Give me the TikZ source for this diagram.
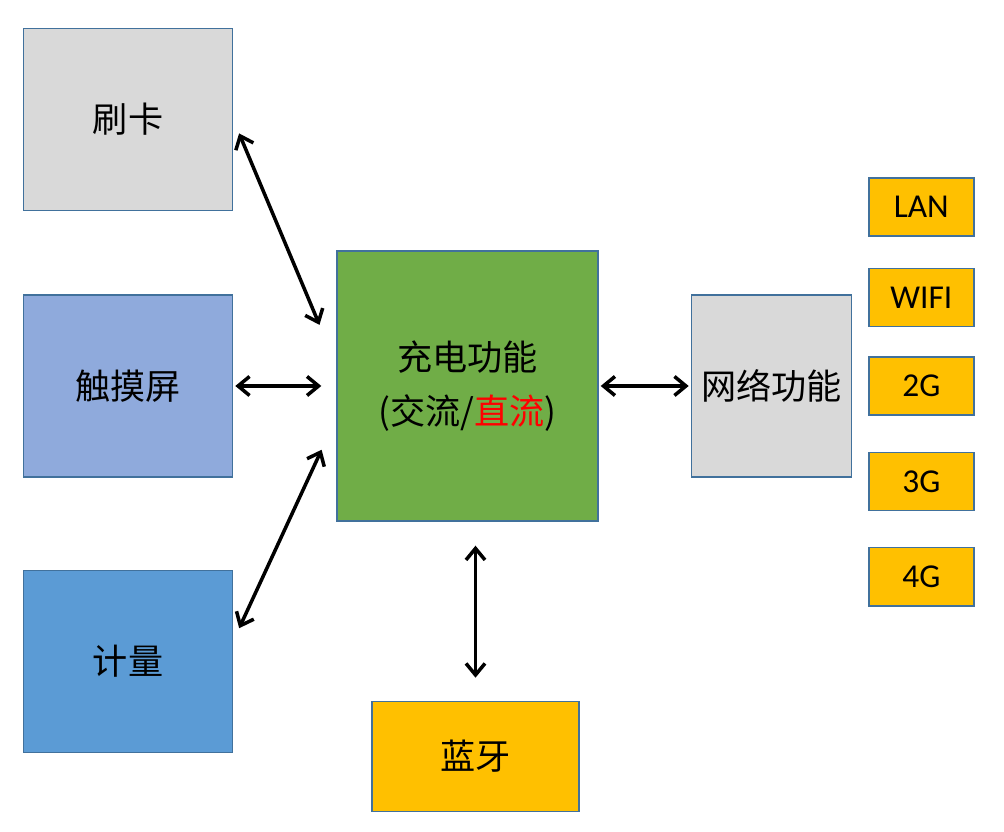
\documentclass[tikz,border=0pt]{standalone}
\usepackage{fontspec}
\setmainfont{Carlito}
\newfontfamily\cjk{Noto Sans CJK SC}
\usetikzlibrary{positioning, arrows.meta}

\definecolor{edgeblue}{HTML}{41719C}
\definecolor{cardgray}{HTML}{D9D9D9}
\definecolor{touchblue}{HTML}{8FAADC}
\definecolor{meterblue}{HTML}{5B9BD5}
\definecolor{chargegreen}{HTML}{70AD47}
\definecolor{netyellow}{HTML}{FFC000}
\definecolor{dcred}{HTML}{FF0000}

\begin{document}
\begin{tikzpicture}[
        % 方框样式
        box/.style={
            rectangle,
            draw=edgeblue,
            line width=0.8pt,
            minimum width=4.18cm,
            minimum height=3.64cm,
            align=center,
            font=\cjk\fontsize{20}{31}\selectfont
        },
        % 网络方式小框
        smallbox/.style={
            rectangle,
            draw=edgeblue,
            line width=0.8pt,
            fill=netyellow,
            minimum width=2.1cm,
            minimum height=1.16cm,
            font=\fontsize{19}{22}\selectfont
        },
        % 双向箭头
        dblarrow/.style={
            {Straight Barb[length=2.3mm,width=3.8mm]}-{Straight Barb[length=2.3mm,width=3.8mm]},
            line width=2pt,
            black
        }
    ]
    \useasboundingbox (0,0) rectangle (20.08,16.64);

    % 1. 中间的充电功能
    \node[box, fill=chargegreen, minimum width=5.22cm, minimum height=5.4cm] (charge) at (9.35,8.92)
        {充电功能\\(交流/\textcolor{dcred}{直流})};

    % 2. 左侧三个模块
    \node[box, fill=touchblue, left=2.06cm of charge] (touch) {触摸屏};
    \node[box, fill=cardgray, above=1.66cm of touch] (card) {刷卡};
    \node[box, fill=meterblue, below=1.84cm of touch] (meter) {计量};

    % 3. 右侧网络功能及方式
    \node[box, fill=cardgray, minimum width=3.2cm, right=1.84cm of charge] (net) {网络功能};
    \node[smallbox, right=0.32cm of net] (g2) {2G};
    \node[smallbox, above=0.58cm of g2] (wifi) {WIFI};
    \node[smallbox, above=0.62cm of wifi] (lan) {LAN};
    \node[smallbox, below=0.72cm of g2] (g3) {3G};
    \node[smallbox, below=0.72cm of g3] (g4) {4G};

    % 4. 下方蓝牙
    \node[box, fill=netyellow, minimum width=4.14cm, minimum height=2.2cm,
          below=3.58cm of charge, xshift=0.16cm] (bt) {蓝牙};

    % 5. 连线
    \draw[dblarrow, shorten <=0.3cm, shorten >=0.87cm] (card.east) -- ([yshift=0.42cm]charge.west);
    \draw[dblarrow, shorten <=0.04cm, shorten >=0.3cm] (touch.east) -- (touch.east -| charge.west);
    \draw[dblarrow, shorten <=0.28cm, shorten >=0.7cm] ([yshift=0.41cm]meter.east) -- ([yshift=-0.64cm]charge.west);
    \draw[dblarrow, shorten <=0.04cm, shorten >=0.04cm] (charge.east) -- (net.west);
    \draw[dblarrow, shorten <=0.46cm, shorten >=0.48cm] (bt.north) -- (bt.north |- charge.south);

\end{tikzpicture}
\end{document}
